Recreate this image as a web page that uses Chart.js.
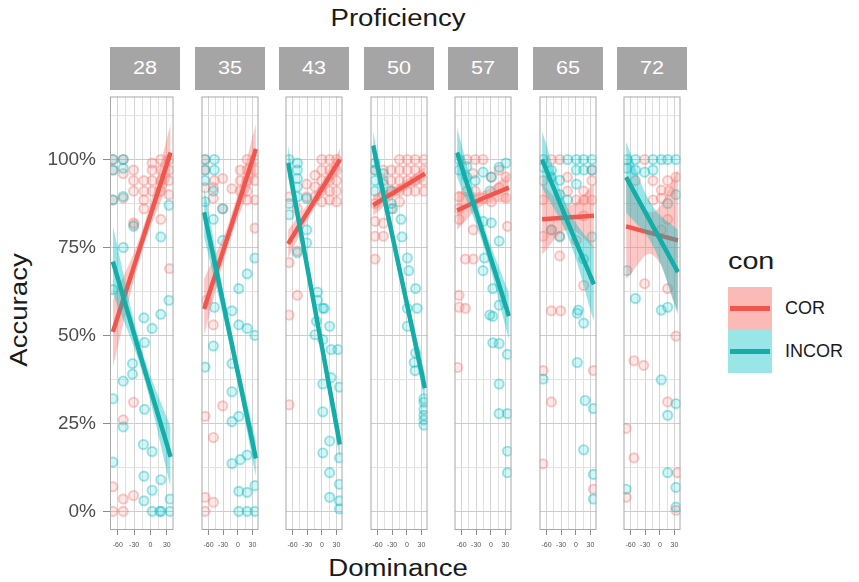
<!DOCTYPE html>
<html>
<head>
<meta charset="utf-8">
<script src="https://cdn.jsdelivr.net/npm/chart.js@4.4.0/dist/chart.umd.min.js"></script>
<style>
body { margin: 0; background: #fff; font-family: "Liberation Sans", Arial, sans-serif; }
#wrap { position: relative; width: 859px; height: 582px; overflow: hidden; }
#wrap canvas { position: absolute; }
.strip { position: absolute; top: 47px; height: 43px; width: 70px; background: #a5a5a5; color: #fff;
         font-size: 18px; line-height: 43px; text-align: center; }
.strip span { display: inline-block; transform: scaleX(1.2); }
.t { position: absolute; color: #1a1a1a; white-space: nowrap; font-size: 23px; line-height: 23px; }
.key { position: absolute; left: 728px; width: 44px; height: 43px; }
.key div { position: absolute; left: 2px; top: 19px; width: 40px; height: 5px; }
.lab { position: absolute; left: 785px; font-size: 18px; line-height: 18px; color: #1a1a1a; }
</style>
</head>
<body>
<div id="wrap">
  <div class="t" style="left:398px;top:7px;transform:translateX(-50%) scaleX(1.2)">Proficiency</div>
  <div class="t" style="left:398px;top:557px;transform:translateX(-50%) scaleX(1.2)">Dominance</div>
  <div class="t" style="left:19px;top:310px;transform:translate(-50%,-50%) rotate(-90deg) scaleX(1.2)">Accuracy</div>
  <div class="t" style="left:728px;top:250px;transform-origin:left;transform:scaleX(1.25)">con</div>
  <div class="key" style="top:287px;background:rgba(248,118,109,0.5)"><div style="background:#f0564e"></div></div>
  <div class="key" style="top:330px;background:rgba(0,191,196,0.4)"><div style="background:#14ada8"></div></div>
  <div class="lab" style="top:299px">COR</div>
  <div class="lab" style="top:342px">INCOR</div>
</div>
<script>
const proficiency = [28, 35, 43, 50, 57, 65, 72];
const xTicks = [-60, -45, -30, -15, 0, 15, 30];
const xLabels = [-60, -30, 0, 30];
const yTicks = [0, 0.125, 0.25, 0.375, 0.5, 0.625, 0.75, 0.875, 1, 1.125];
const yLabels = [0, 0.25, 0.5, 0.75, 1];

// points: [dominance, accuracy]
const cor28 = [[-69,1.0],[-50,1.0],[-69,0.97],[-50,0.96],[-69,0.885],[-50,0.89],[-31,0.97],[-31,0.94],[-31,0.91],[-31,0.82],[-12,0.94],[-12,0.91],[-12,0.885],[-12,0.86],[3,0.99],[3,0.97],[3,0.94],[3,0.91],[19,1.0],[19,0.97],[19,0.94],[19,0.91],[19,0.83],[34,1.0],[34,0.97],[34,0.94],[34,0.9],[35,0.69],[-30,0.815],[-31,0.31],[-50,0.26],[-69,0.07],[-50,0.035],[-31,0.045],[-69,0.0],[-50,0.0]];
const incor28 = [[-69,1.0],[-50,1.0],[-69,0.97],[-50,0.975],[-69,0.885],[-50,0.895],[-31,0.81],[19,0.78],[34,0.87],[-50,0.75],[-69,0.63],[34,0.6],[-12,0.55],[19,0.56],[3,0.52],[-11,0.48],[-33,0.42],[-33,0.39],[-50,0.37],[-69,0.32],[-11,0.29],[-50,0.24],[-13,0.19],[3,0.17],[-69,0.14],[-12,0.1],[19,0.09],[3,0.06],[-12,0.03],[36,0.035],[3,0.0],[17,0.0],[20,0.0],[36,0.0]];
const cor35 = [[-67,1.0],[-67,0.97],[-67,0.92],[-48,0.94],[-50,0.89],[-50,0.92],[-31,0.946],[-31,0.86],[-12,0.917],[5,0.97],[5,0.94],[5,0.91],[19,1.0],[19,0.97],[19,0.94],[19,0.91],[19,0.885],[35,1.0],[35,0.97],[35,0.94],[35,0.885],[35,0.805],[-64,0.6],[-50,0.53],[-31,0.3],[-67,0.27],[-50,0.21],[-67,0.04],[-50,0.026],[-67,0.0]];
const incor35 = [[-67,1.0],[-48,1.0],[-67,0.97],[-48,0.97],[-67,0.94],[-50,0.91],[-31,0.86],[-50,0.83],[-67,0.88],[-31,0.77],[35,0.72],[19,0.675],[2,0.633],[-48,0.58],[-12,0.57],[2,0.53],[19,0.52],[35,0.5],[-50,0.47],[-12,0.42],[-67,0.41],[-12,0.34],[2,0.27],[-12,0.255],[-12,0.136],[5,0.147],[19,0.16],[35,0.073],[2,0.057],[19,0.054],[2,0.0],[19,0.0],[35,0.0]];
const cor43 = [[-67,0.894],[-67,0.707],[-67,0.558],[-50,0.614],[-67,0.303],[-31,0.894],[-31,0.93],[-50,0.74],[-50,0.86],[-14,0.955],[-14,0.922],[-14,0.894],[0,1.0],[0,0.97],[0,0.94],[0,0.91],[0,0.88],[16,1.0],[16,0.97],[16,0.94],[16,0.91],[16,0.885],[30,1.0],[30,0.97],[30,0.94],[30,0.91],[30,0.88]];
const incor43 = [[-67,1.0],[-50,0.99],[-50,0.97],[-50,0.946],[-50,0.922],[-67,0.875],[-67,0.843],[-50,0.894],[-31,0.889],[-31,0.8],[-31,0.763],[-50,0.735],[-9,0.623],[-9,0.6],[5,0.577],[2,0.577],[-11,0.54],[16,0.526],[-14,0.502],[2,0.488],[19,0.46],[33,0.46],[19,0.38],[2,0.362],[36,0.353],[2,0.283],[16,0.2],[2,0.166],[36,0.152],[16,0.11],[36,0.077],[16,0.04],[36,0.03],[36,0.007]];
const cor50 = [[-65,0.97],[-65,0.875],[-65,0.824],[-65,0.782],[-65,0.717],[-48,0.97],[-48,0.94],[-48,0.9],[-48,0.819],[-48,0.782],[-32,0.97],[-32,0.94],[-32,0.91],[-32,0.86],[-15,1.0],[-15,0.97],[-15,0.94],[-15,0.91],[-15,0.88],[1,1.0],[1,0.97],[1,0.94],[1,0.91],[17,1.0],[17,0.97],[17,0.94],[17,0.91],[35,1.0],[35,0.97],[35,0.94],[35,0.91]];
const incor50 = [[-65,0.99],[-65,0.97],[-65,0.94],[-65,0.91],[-48,0.96],[-48,0.93],[-32,0.91],[-32,0.875],[-29,0.86],[-12,0.83],[-10,0.78],[1,0.72],[4,0.684],[18,0.633],[21,0.577],[1,0.577],[1,0.526],[18,0.45],[15,0.423],[17,0.4],[35,0.32],[35,0.31],[35,0.29],[35,0.273],[35,0.26],[35,0.245]];
const cor57 = [[-65,0.894],[-65,0.86],[-65,0.83],[-49,1.0],[-32,1.0],[-16,1.0],[-49,0.91],[-32,0.91],[-16,0.89],[1,0.88],[1,0.95],[17,0.92],[17,0.97],[31,0.95],[31,0.89],[-36,0.96],[-36,0.8],[-52,0.717],[-36,0.717],[34,0.81],[-65,0.614],[-65,0.58],[-52,0.577],[-68,0.409]];
const incor57 = [[-65,1.0],[-65,0.97],[-49,0.98],[-49,0.95],[-32,0.94],[-16,0.964],[-2,0.91],[1,0.95],[17,0.978],[31,0.99],[-16,0.824],[1,0.82],[17,0.768],[-13,0.72],[-16,0.684],[4,0.633],[17,0.586],[-2,0.558],[4,0.554],[4,0.479],[17,0.477],[34,0.446],[17,0.362],[17,0.278],[34,0.278],[34,0.171],[34,0.11]];
const cor65 = [[-67,0.94],[-50,1.0],[-33,1.0],[-17,0.95],[-17,0.91],[1,0.885],[1,0.77],[16,0.91],[16,0.885],[16,0.84],[33,0.97],[33,0.94],[33,0.885],[-67,0.885],[-67,0.782],[-50,0.8],[-33,0.782],[-33,0.726],[16,0.642],[-50,0.57],[-31,0.57],[-67,0.4],[36,0.4],[-50,0.311],[-67,0.135],[36,0.063]];
const incor65 = [[-67,1.0],[-67,0.978],[-50,0.969],[-50,0.95],[-33,0.941],[-33,0.9],[-17,1.0],[1,1.0],[16,1.0],[33,1.0],[1,0.97],[16,0.97],[33,0.97],[-17,0.885],[1,0.93],[-50,0.8],[-33,0.78],[16,0.717],[33,0.78],[5,0.572],[3,0.563],[16,0.535],[3,0.423],[-67,0.376],[19,0.315],[36,0.292],[16,0.175],[36,0.105],[36,0.035]];
const cor72 = [[-31,1.0],[-50,0.94],[-14,0.94],[-14,0.885],[3,0.913],[3,0.89],[3,0.8],[16,0.94],[19,0.91],[16,0.83],[33,0.95],[-31,0.647],[16,0.633],[33,0.498],[-53,0.428],[-33,0.415],[16,0.311],[-69,0.236],[-53,0.152],[36,0.11],[-69,0.04],[33,0.003]];
const incor72 = [[-67,1.0],[-50,1.0],[-67,0.975],[-50,0.97],[-31,0.964],[-14,1.0],[3,1.0],[16,1.0],[33,1.0],[-14,0.97],[16,0.875],[33,0.9],[-67,0.684],[-50,0.605],[3,0.572],[16,0.58],[3,0.374],[16,0.273],[33,0.306],[16,0.11],[33,0.068],[-69,0.063],[33,0.012]];

// linear fits: [dominance, fit, lower, upper]
const corFit28 = [[-69,0.51,0.41,0.60],[-16,0.765,0.735,0.795],[37,1.02,0.95,1.10]];
const incorFit28 = [[-69,0.71,0.62,0.81],[-16,0.43,0.40,0.46],[37,0.155,0.07,0.24]];
const corFit35 = [[-69,0.575,0.50,0.66],[-16,0.80,0.77,0.83],[37,1.03,0.96,1.10]];
const incorFit35 = [[-69,0.85,0.78,0.92],[-16,0.50,0.47,0.53],[37,0.15,0.10,0.20]];
const corFit43 = [[-69,0.76,0.72,0.80],[-16,0.88,0.86,0.90],[37,1.0,0.97,1.03]];
const incorFit43 = [[-69,0.99,0.95,1.04],[-16,0.59,0.57,0.61],[37,0.19,0.15,0.23]];
const corFit50 = [[-69,0.87,0.84,0.90],[-16,0.915,0.90,0.93],[37,0.96,0.94,0.98]];
const incorFit50 = [[-69,1.04,1.0,1.08],[-16,0.695,0.67,0.72],[37,0.35,0.31,0.39]];
const corFit57 = [[-69,0.855,0.80,0.91],[-16,0.89,0.87,0.91],[37,0.92,0.88,0.96]];
const incorFit57 = [[-69,1.02,0.95,1.09],[-16,0.79,0.76,0.82],[37,0.555,0.49,0.62]];
const corFit65 = [[-69,0.83,0.73,0.93],[-16,0.835,0.80,0.87],[37,0.84,0.75,0.93]];
const incorFit65 = [[-69,1.0,0.92,1.08],[-16,0.82,0.78,0.86],[37,0.645,0.54,0.75]];
const corFit72 = [[-69,0.81,0.66,0.95],[-16,0.79,0.73,0.85],[37,0.77,0.57,0.97]];
const incorFit72 = [[-69,0.95,0.85,1.05],[-16,0.815,0.76,0.87],[37,0.68,0.56,0.80]];

const corPoints = [cor28, cor35, cor43, cor50, cor57, cor65, cor72];
const incorPoints = [incor28, incor35, incor43, incor50, incor57, incor65, incor72];
const corFits = [corFit28, corFit35, corFit43, corFit50, corFit57, corFit65, corFit72];
const incorFits = [incorFit28, incorFit35, incorFit43, incorFit50, incorFit57, incorFit65, incorFit72];

const wrap = document.getElementById('wrap');

const framePlugin = {
    id: 'frame',
    afterDatasetsDraw(chart) {
        const { ctx, chartArea: a } = chart;
        ctx.save();
        ctx.strokeStyle = '#a8a8a8';
        ctx.lineWidth = 1;
        ctx.strokeRect(a.left + 0.5, a.top + 0.5, a.width - 1, a.height - 1);
        ctx.restore();
    }
};

const xy = rows => rows.map(r => ({ x: r[0], y: r[1] }));
const col = (rows, k) => rows.map(r => ({ x: r[0], y: r[k] }));

function fitLine(fit, color) {
    return { data: col(fit, 1), showLine: true, borderColor: color, borderWidth: 4.5,
             pointRadius: 0, fill: false, clip: 0 };
}
function bandUpper(fit, color) {
    return { data: col(fit, 3), showLine: true, borderColor: 'rgba(0,0,0,0)', borderWidth: 1,
             pointRadius: 0, tension: 0.4, fill: '+1', backgroundColor: color, clip: 0 };
}
function bandLower(fit) {
    return { data: col(fit, 2), showLine: true, borderColor: 'rgba(0,0,0,0)', borderWidth: 1,
             pointRadius: 0, tension: 0.4, fill: false, clip: 0 };
}
function dots(rows, bg, border) {
    return { data: xy(rows), showLine: false, pointRadius: 4.6, pointBorderWidth: 1.9,
             pointBackgroundColor: bg, pointBorderColor: border, clip: 0 };
}

proficiency.forEach((p, i) => {
    const first = i === 0;
    const left = Math.round(110 + i * 84.5);
    const axisW = first ? 90 : 0;

    const strip = document.createElement('div');
    strip.className = 'strip';
    strip.style.left = left + 'px';
    strip.innerHTML = '<span>' + p + '</span>';
    wrap.appendChild(strip);

    const canvas = document.createElement('canvas');
    canvas.width = 70 + axisW;
    canvas.height = 465;
    canvas.style.left = (left - axisW) + 'px';
    canvas.style.top = '90px';
    wrap.appendChild(canvas);

    new Chart(canvas.getContext('2d'), {
        type: 'scatter',
        data: {
            datasets: [
                fitLine(incorFits[i], '#14ada8'),
                bandUpper(incorFits[i], 'rgba(0,191,196,0.4)'),
                bandLower(incorFits[i]),
                fitLine(corFits[i], '#f0564e'),
                bandUpper(corFits[i], 'rgba(248,118,109,0.4)'),
                bandLower(corFits[i]),
                dots(incorPoints[i], 'rgba(0,191,196,0.16)', 'rgba(0,191,196,0.4)'),
                dots(corPoints[i], 'rgba(248,118,109,0.16)', 'rgba(248,118,109,0.4)')
            ]
        },
        options: {
            responsive: false,
            animation: false,
            events: [],
            layout: { padding: 0 },
            plugins: { legend: { display: false }, tooltip: { enabled: false } },
            scales: {
                x: {
                    type: 'linear', min: -74.3, max: 42.3,
                    afterBuildTicks: s => { s.ticks = xTicks.map(v => ({ value: v })); },
                    afterFit: s => { s.height = 25; s.paddingLeft = 0; s.paddingRight = 0; },
                    border: { display: false },
                    grid: {
                        color: c => (c.tick && xLabels.includes(c.tick.value)) ? '#d4d4d4' : '#e0e0e0',
                        lineWidth: 1, drawTicks: true, tickLength: 5, tickWidth: 1,
                        tickColor: c => (c.tick && xLabels.includes(c.tick.value)) ? '#8c8c8c' : 'rgba(0,0,0,0)'
                    },
                    ticks: {
                        autoSkip: false, maxRotation: 0, minRotation: 0, padding: 6,
                        font: { size: 7, family: '"Liberation Sans", Arial, sans-serif' }, color: '#555',
                        callback: v => xLabels.includes(v) ? String(v) : ''
                    }
                },
                y: {
                    type: 'linear', min: -0.053, max: 1.179,
                    afterBuildTicks: s => { s.ticks = yTicks.map(v => ({ value: v })); },
                    afterFit: s => { s.width = axisW; s.paddingTop = 0; s.paddingBottom = 0; },
                    border: { display: false },
                    grid: {
                        color: c => (c.tick && yLabels.includes(c.tick.value)) ? '#cdcdcd' : '#e3e3e3',
                        lineWidth: 1, drawTicks: first, tickLength: 7, tickWidth: 1,
                        tickColor: c => (c.tick && yLabels.includes(c.tick.value)) ? '#8c8c8c' : 'rgba(0,0,0,0)'
                    },
                    ticks: {
                        display: first, padding: 7,
                        font: { size: 19, family: '"Liberation Sans", Arial, sans-serif' }, color: '#4d4d4d',
                        callback: v => yLabels.includes(v) ? Math.round(v * 100) + '%' : ''
                    }
                }
            }
        },
        plugins: [framePlugin]
    });
});
</script>
</body>
</html>
